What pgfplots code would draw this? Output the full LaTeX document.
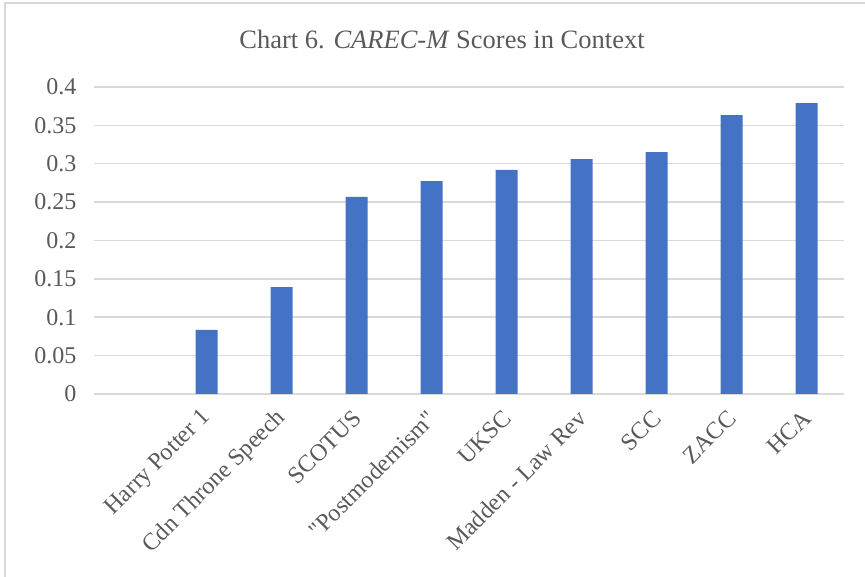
\documentclass[border=0pt]{standalone}
\usepackage{fontspec}
\setmainfont{Liberation Serif}
\newfontfamily\rawserif{Liberation Serif}
\usepackage{pgfplots}
\pgfplotsset{compat=1.18}
\definecolor{barblue}{HTML}{4472C4}
\definecolor{gridgray}{HTML}{D9D9D9}
\definecolor{txtgray}{HTML}{595959}
\begin{document}
\begin{tikzpicture}[x=1bp,y=1bp]
\useasboundingbox (0,0) rectangle (865,577);
% chart area border (left and top edges visible)
\draw[gridgray, line width=1.2bp] (5,0) -- (5,574) -- (865,574);
\node[txtgray, font=\fontsize{26.5bp}{30bp}\selectfont] at (442,537)
  {Chart 6. \textit{CAREC-M} Scores in Context};
\begin{axis}[
  at={(94bp,183bp)}, anchor=south west,
  scale only axis,
  width=750bp, height=307bp,
  xmin=-0.5, xmax=9.5,
  ymin=0, ymax=0.4,
  ytick={0,0.05,...,0.4},
  yticklabels={0,0.05,0.1,0.15,0.2,0.25,0.3,0.35,0.4},
  xtick={1,...,9},
  xticklabels={Harry Potter 1,Cdn Throne Speech,SCOTUS,{\rawserif"Postmodernism"},UKSC,Madden - Law Rev,SCC,ZACC,HCA},
  axis line style={draw=none},
  major tick length=0pt,
  ymajorgrids,
  major grid style={gridgray, line width=1.5bp},
  tick label style={txtgray, font=\fontsize{24bp}{28bp}\selectfont},
  /pgf/number format/assume math mode=true,
  yticklabel style={anchor=east, xshift=-14bp},
  xticklabel style={xshift=3bp, yshift=-18bp, rotate=45, anchor=east},
  ybar, bar width=22bp,
]
\addplot[fill=barblue, draw=none] coordinates {
  (1,0.0834) (2,0.1394) (3,0.2567) (4,0.2775) (5,0.2920)
  (6,0.3060) (7,0.3150) (8,0.3635) (9,0.3790)
};
\end{axis}
\end{tikzpicture}
\end{document}
